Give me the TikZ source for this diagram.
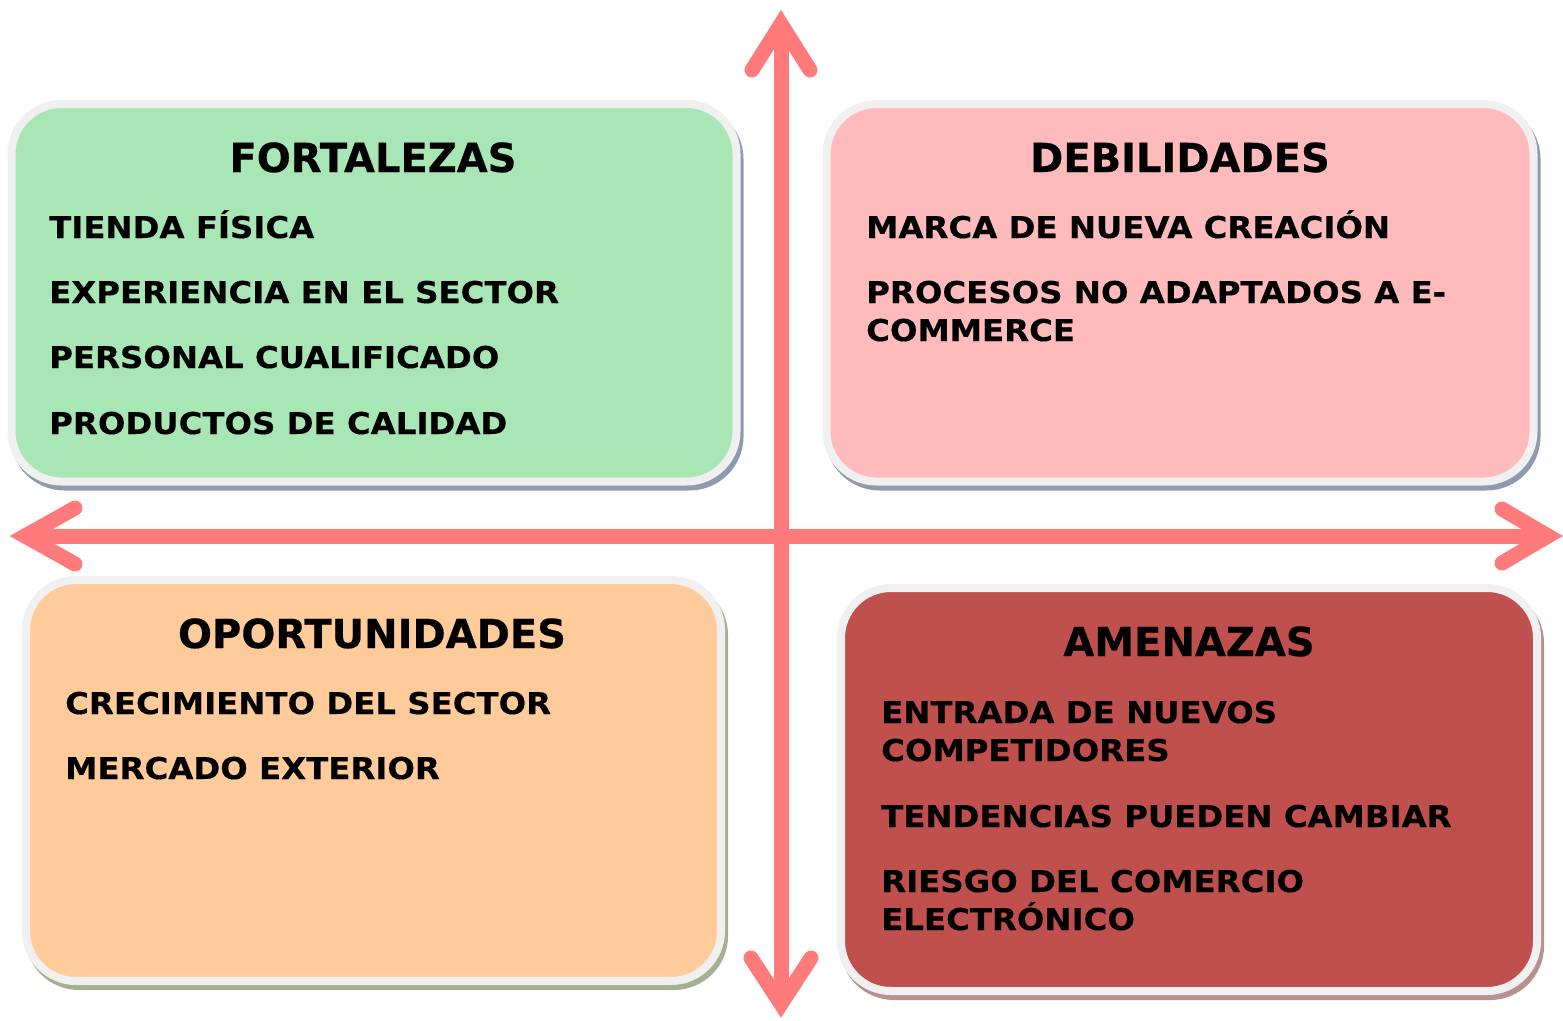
\documentclass[tikz,border=0pt]{standalone}
\usepackage{fontspec}
\setmainfont{DejaVu Sans}
\newfontfamily\itmfont{DejaVu Sans}[FakeStretch=1.08, BoldFeatures={FakeBold=0.4}]
\newfontfamily\ttlfont{DejaVu Sans}[BoldFeatures={FakeBold=0.5}]
\definecolor{fgreen}{HTML}{A8E6B5}
\definecolor{fpink}{HTML}{FFBBBB}
\definecolor{fpeach}{HTML}{FFCB9A}
\definecolor{fred}{HTML}{C0504D}
\definecolor{boxedge}{HTML}{F0F0F0}
\definecolor{shblue}{HTML}{8E9BAE}
\definecolor{shgreen}{HTML}{A6AF92}
\definecolor{shred}{HTML}{B89090}
\definecolor{arrowc}{HTML}{FF7B7B}
\begin{document}
\begin{tikzpicture}[x=1pt,y=-1pt,
  quad/.style={draw=boxedge, fill=#1, line width=8pt, rounded corners=50pt, outer sep=0pt, inner sep=0pt},
  shade/.style={draw=#1, fill=#1, line width=8pt, rounded corners=50pt},
  ttl/.style={font=\ttlfont\fontsize{40}{48}\selectfont\bfseries, anchor=base, inner sep=0pt},
  itm/.style={font=\itmfont\fontsize{30}{38}\selectfont\bfseries, anchor=base west, inner sep=0pt},
  axisline/.style={draw=arrowc, line width=15pt},
  head/.style={draw=arrowc, line width=15pt, line cap=round, line join=miter}]
\useasboundingbox (0,0) rectangle (1563,1020);

% shadows
\path[shade=shblue] (14.5,109) rectangle (739.5,486.5);
\path[shade=shblue] (829.5,109) rectangle (1536.5,486.5);
\path[shade=shgreen] (29,585) rectangle (724,986);
\path[shade=shred] (844,593) rectangle (1540,996);

% boxes
\node[quad=fgreen, minimum width=725pt, minimum height=377.5pt] (F) at (374,292.75) {};
\node[quad=fpink, minimum width=707pt, minimum height=377.5pt] (D) at (1180,292.75) {};
\node[quad=fpeach, minimum width=695pt, minimum height=401pt] (O) at (373.5,780.5) {};
\node[quad=fred, minimum width=696pt, minimum height=403pt] (A) at (1189,789.5) {};

% texts
\node[ttl] (Ft) at (373,172) {FORTALEZAS};
\node[itm] (F1) at (49,238) {TIENDA FÍSICA};
\node[itm] (F2) at (49,303) {EXPERIENCIA EN EL SECTOR};
\node[itm] (F3) at (49,368) {PERSONAL CUALIFICADO};
\node[itm] (F4) at (49,434) {PRODUCTOS DE CALIDAD};

\node[ttl] (Dt) at (1180,172) {DEBILIDADES};
\node[itm] (D1) at (866,238) {MARCA DE NUEVA CREACIÓN};
\node[itm] (D2a) at (866,303) {PROCESOS NO ADAPTADOS A E-};
\node[itm] (D2b) at (866,341) {COMMERCE};

\node[ttl] (Ot) at (372,648) {OPORTUNIDADES};
\node[itm] (O1) at (65,714) {CRECIMIENTO DEL SECTOR};
\node[itm] (O2) at (65,779) {MERCADO EXTERIOR};

\node[ttl] (At) at (1189,656) {AMENAZAS};
\node[itm] (A1a) at (881,723) {ENTRADA DE NUEVOS};
\node[itm] (A1b) at (881,761) {COMPETIDORES};
\node[itm] (A2) at (881,827) {TENDENCIAS PUEDEN CAMBIAR};
\node[itm] (A3a) at (881,892) {RIESGO DEL COMERCIO};
\node[itm] (A3b) at (881,930) {ELECTRÓNICO};

% axes
\coordinate (vt) at (781,24);
\coordinate (vb) at (781,1004);
\coordinate (hl) at (25,536);
\coordinate (hr) at (1548,536);
\draw[axisline] (vt) -- (vb);
\draw[axisline] (hl) -- (hr);
\draw[head] (752,70) -- (vt) -- (810,70);
\draw[head] (751,958) -- (vb) -- (811,958);
\draw[head] (75,508) -- (hl) -- (75,564);
\draw[head] (1502,509) -- (hr) -- (1502,563);
\end{tikzpicture}
\end{document}
